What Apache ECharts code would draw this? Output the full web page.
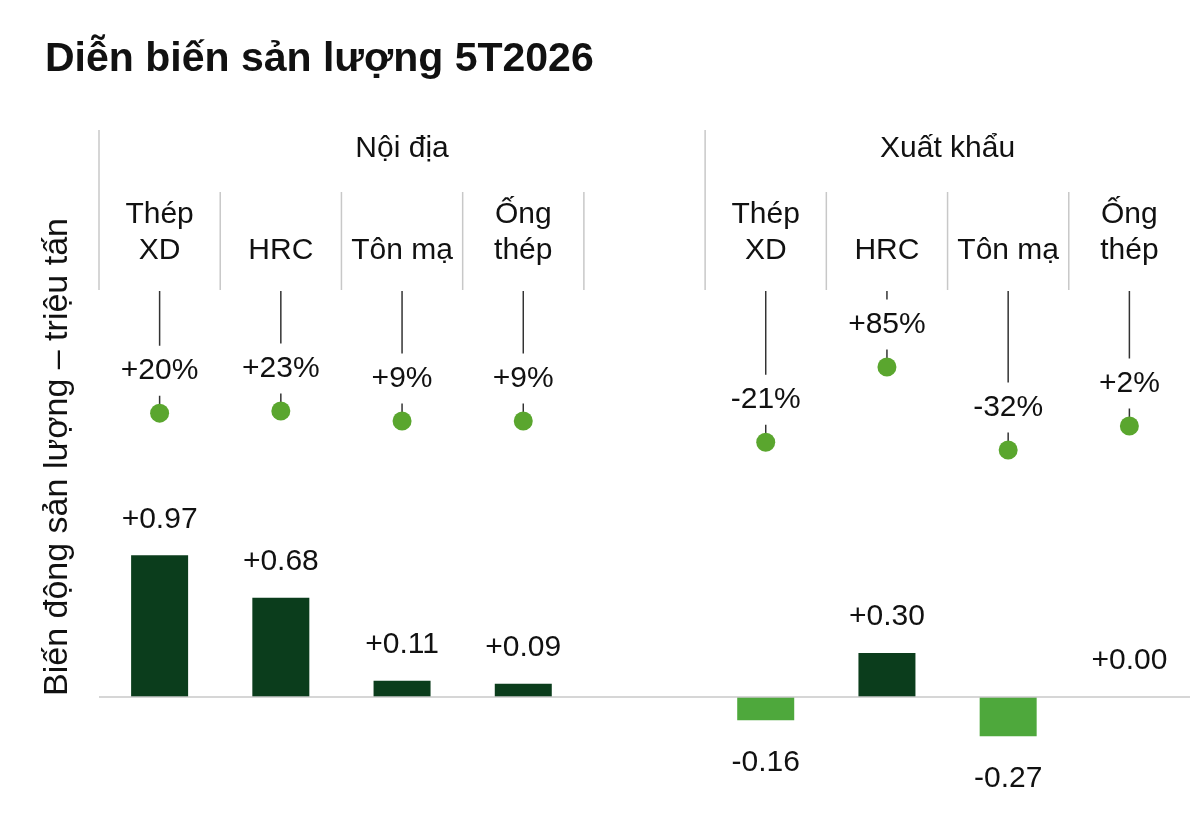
<!DOCTYPE html>
<html>
<head>
<meta charset="utf-8">
<script src="https://cdn.jsdelivr.net/npm/echarts@6/dist/echarts.min.js"></script>
<style>
html,body{margin:0;padding:0;background:#fff;}
#c{width:1200px;height:822px;}
</style>
</head>
<body>
<div id="c"></div>
<script>
// ---- data ----
const chartTitle = 'Diễn biến sản lượng 5T2026';
const yAxisTitle = 'Biến động sản lượng – triệu tấn';
const categories = ['Thép\nXD', 'HRC', 'Tôn mạ', 'Ống\nthép', '', 'Thép\nXD', 'HRC', 'Tôn mạ', 'Ống\nthép'];
const groupNames = ['Nội địa', 'Xuất khẩu'];
const groupFrom = [0, 5];
const groupTo = [4, 8];
const volumeChange = [0.97, 0.68, 0.11, 0.09, null, -0.16, 0.30, -0.27, 0.00]; // triệu tấn
const pctChange = [20, 23, 9, 9, null, -21, 85, -32, 2]; // %

// ---- style ----
const FONT = "'Liberation Sans', Arial, sans-serif";
const INK = '#111111';
const DARK = '#0b3d1c';
const LIGHT = '#4ea83c';
const DOT = '#5aa62e';
const GRID_LINE = '#c8c8c8';

const chart = echarts.init(document.getElementById('c'), null, { renderer: 'canvas' });

const option = {
  animation: false,
  backgroundColor: '#fff',
  textStyle: { fontFamily: FONT },
  title: {
    text: chartTitle,
    left: 40,
    top: 34,
    textStyle: { fontFamily: FONT, fontSize: 41, fontWeight: 'bold', color: '#111' }
  },
  grid: { left: 99, right: 10, top: 291, height: 522 },
  xAxis: {
    type: 'category',
    data: categories,
    position: 'top',
    axisLine: { show: false },
    axisTick: { show: false },
    splitLine: { show: false },
    axisLabel: {
      show: true, interval: 0, margin: 22,
      fontSize: 30, lineHeight: 36, color: INK, fontFamily: FONT
    }
  },
  yAxis: [
    { type: 'value', min: -0.795, max: 2.78, show: false },
    { type: 'value', min: -543, max: 192, show: false }
  ],
  graphic: [{
    type: 'text',
    x: 58, y: 457,
    rotation: Math.PI / 2,
    style: {
      text: yAxisTitle, fontSize: 34, fontFamily: FONT, fill: INK,
      align: 'center', verticalAlign: 'middle'
    }
  }],
  series: [
    {
      // group headers and separators
      type: 'custom',
      xAxisIndex: 0, yAxisIndex: 0,
      clip: false, silent: true, z: 1,
      data: groupNames.map((n, i) => [groupFrom[i], groupTo[i]]),
      renderItem: function (params, api) {
        const cs = params.coordSys;
        const bw = api.size([1, 0])[0];
        const from = api.value(0), to = api.value(1);
        const x0 = api.coord([from, 0])[0] - bw / 2;
        const x1 = api.coord([to, 0])[0] + bw / 2;
        const top = cs.y;
        const children = [{
          type: 'line',
          shape: { x1: x0, y1: top - 161, x2: x0, y2: top - 1 },
          style: { stroke: GRID_LINE, lineWidth: 1.5 }
        }];
        for (let i = from + 1; i <= to; i++) {
          const x = api.coord([i, 0])[0] - bw / 2;
          children.push({
            type: 'line',
            shape: { x1: x, y1: top - 99, x2: x, y2: top - 1 },
            style: { stroke: GRID_LINE, lineWidth: 1.5 }
          });
        }
        children.push({
          type: 'text',
          x: (x0 + x1) / 2, y: top - 142,
          style: {
            text: groupNames[params.dataIndex], fontSize: 30, fontFamily: FONT,
            fill: INK, align: 'center', verticalAlign: 'middle'
          }
        });
        return { type: 'group', children: children };
      }
    },
    {
      // connector lines from header to dots
      type: 'custom',
      xAxisIndex: 0, yAxisIndex: 1,
      clip: false, silent: true, z: 2,
      data: pctChange.map((v, i) => [i, v]).filter(d => d[1] != null),
      renderItem: function (params, api) {
        const cs = params.coordSys;
        const p = api.coord([api.value(0), api.value(1)]);
        return {
          type: 'line',
          shape: { x1: p[0], y1: cs.y, x2: p[0], y2: p[1] },
          style: { stroke: '#333333', lineWidth: 1.5 }
        };
      }
    },
    {
      type: 'bar',
      yAxisIndex: 0,
      barWidth: 57,
      z: 3,
      data: volumeChange.map(v => v == null ? '-' : {
        value: v,
        itemStyle: { color: v < 0 ? LIGHT : DARK },
        label: { position: v < 0 ? 'bottom' : 'top', distance: v < 0 ? 27 : 21 }
      }),
      label: {
        show: true, fontSize: 30, fontFamily: FONT, color: INK,
        formatter: p => (p.value >= 0 ? '+' : '') + Number(p.value).toFixed(2)
      },
      markLine: {
        silent: true, symbol: 'none',
        label: { show: false },
        lineStyle: { color: GRID_LINE, width: 1.5, type: 'solid' },
        data: [{ yAxis: 0 }]
      }
    },
    {
      type: 'scatter',
      yAxisIndex: 1,
      z: 5,
      symbolSize: 19,
      itemStyle: { color: DOT, opacity: 1 },
      data: pctChange.map(v => v == null ? '-' : v),
      label: {
        show: true, position: 'top', distance: 8,
        fontSize: 30, lineHeight: 30, fontFamily: FONT, color: INK,
        backgroundColor: '#ffffff', padding: [10, 4, 10, 4], opacity: 1,
        formatter: p => (p.value > 0 ? '+' : '') + p.value + '%'
      }
    }
  ]
};

chart.setOption(option);
</script>
</body>
</html>
